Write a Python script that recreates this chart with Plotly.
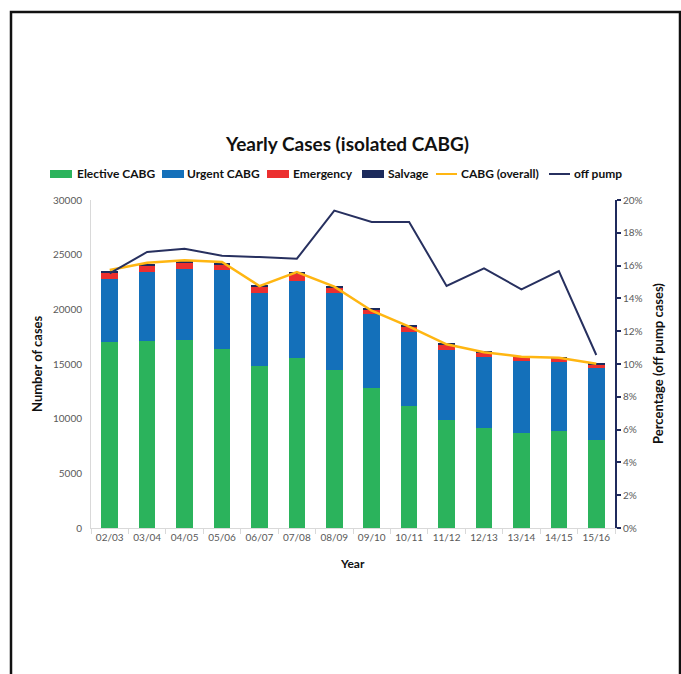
import plotly.graph_objects as go

years = ["02/03", "03/04", "04/05", "05/06", "06/07", "07/08", "08/09",
         "09/10", "10/11", "11/12", "12/13", "13/14", "14/15", "15/16"]
elective = [17040, 17130, 17220, 16370, 14800, 15520, 14420,
            12780, 11140, 9880, 9120, 8710, 8835, 8050]
urgent = [5760, 6320, 6440, 7230, 6665, 7070, 7045,
          6820, 6810, 6430, 6550, 6560, 6320, 6610]
emergency = [490, 550, 640, 515, 600, 710, 545,
             430, 460, 460, 400, 370, 365, 275]
salvage = [210, 150, 120, 120, 160, 150, 150,
           120, 160, 150, 120, 90, 120, 185]
cabg_overall = [23590, 24270, 24480, 24330, 22130, 23410, 22070,
                19870, 18410, 16800, 16070, 15670, 15580, 15030]
off_pump = [0.1553, 0.1683, 0.1703, 0.1660, 0.1652, 0.1642, 0.1935,
            0.1866, 0.1866, 0.1476, 0.1583, 0.1455, 0.1567, 0.1055]

FONT = "Lato"
GRAY = "#595959"
NAVY = "#1f2a5c"

bar_specs = [("Elective CABG", elective, "#2bb35c"),
             ("Urgent CABG", urgent, "#1470ba"),
             ("Emergency", emergency, "#ec2f2f"),
             ("Salvage", salvage, "#1c2a5c")]
line_specs = [("CABG (overall)", cabg_overall, "#ffb612", 2.5, "y"),
              ("off pump", off_pump, "#27305f", 2, "y2")]

fig = go.Figure()
for name, vals, col in bar_specs:
    fig.add_trace(go.Bar(x=years, y=vals, name=name, marker_color=col,
                         marker_line_width=0))
for name, vals, col, w, ax in line_specs:
    fig.add_trace(go.Scatter(x=years, y=vals, name=name, yaxis=ax,
                             mode="lines", line=dict(color=col, width=w)))

W, H = 681, 674
L, R, T, B = 91, 66, 200, 146
pw, ph = W - L - R, H - T - B


def px_x(p):
    return (p - L) / pw


def px_y(p):
    return (H - B - p) / ph


annotations = [
    dict(text="<b>Yearly Cases (isolated CABG)</b>", xref="paper", yref="paper",
         x=px_x(347), y=px_y(143), showarrow=False,
         font=dict(family=FONT, size=19, color="#111111"),
         xanchor="center", yanchor="middle"),
    dict(text="<b>Number of cases</b>", xref="paper", yref="paper",
         x=px_x(37), y=0.5, textangle=-90, showarrow=False,
         font=dict(family=FONT, size=13, color="#111111"),
         xanchor="center", yanchor="middle"),
    dict(text="<b>Percentage (off pump cases)</b>", xref="paper", yref="paper",
         x=px_x(658), y=0.5, textangle=-90, showarrow=False,
         font=dict(family=FONT, size=13, color="#111111"),
         xanchor="center", yanchor="middle"),
    dict(text="<b>Year</b>", xref="paper", yref="paper",
         x=px_x(352), y=px_y(563), showarrow=False,
         font=dict(family=FONT, size=12, color="#111111"),
         xanchor="center", yanchor="middle"),
]
shapes = [
    dict(type="rect", xref="paper", yref="paper",
         x0=px_x(11), x1=px_x(680), y0=px_y(690), y1=px_y(12),
         line=dict(color="#111111", width=2.5), fillcolor="rgba(0,0,0,0)",
         layer="above"),
]

# legend row (drawn as layout items so it fits on one line like the original)
LEG_Y = 174
sym_x = [50, 162, 267, 362, 436, 549]
txt_x = [75, 185, 291, 386, 459, 572]
entries = [(n, c, "bar") for n, _, c in bar_specs] + \
          [(n, c, "line") for n, _, c, _, _ in line_specs]
for (name, col, kind), sx, tx in zip(entries, sym_x, txt_x):
    if kind == "bar":
        shapes.append(dict(type="rect", xref="paper", yref="paper",
                           x0=px_x(sx), x1=px_x(sx + 22),
                           y0=px_y(LEG_Y + 4), y1=px_y(LEG_Y - 4),
                           line=dict(width=0), fillcolor=col))
    else:
        shapes.append(dict(type="line", xref="paper", yref="paper",
                           x0=px_x(sx), x1=px_x(sx + 21),
                           y0=px_y(LEG_Y), y1=px_y(LEG_Y),
                           line=dict(color=col, width=2)))
    annotations.append(dict(text="<b>" + name + "</b>", xref="paper",
                            yref="paper", x=px_x(tx), y=px_y(LEG_Y),
                            xanchor="left", yanchor="middle", showarrow=False,
                            font=dict(family=FONT, size=12, color="#111111")))

fig.update_layout(
    width=W, height=H,
    margin=dict(l=L, r=R, t=T, b=B),
    paper_bgcolor="white", plot_bgcolor="white",
    barmode="stack", bargap=0.56,
    font=dict(family=FONT, color=GRAY, size=10),
    showlegend=False,
    xaxis=dict(showgrid=False, showline=True, linecolor="#d9d9d9", linewidth=1,
               ticks="outside", tickson="boundaries", ticklen=5,
               tickcolor="#d9d9d9", tickfont=dict(size=10, color=GRAY),
               zeroline=False),
    yaxis=dict(range=[0, 30000], dtick=5000, tickformat="d", showgrid=False,
               showline=True, linecolor="#d9d9d9", linewidth=1, ticks="",
               zeroline=False, tickfont=dict(size=10, color=GRAY),
               ticklabelstandoff=6),
    yaxis2=dict(range=[0, 0.2], dtick=0.02, tickformat=".0%", overlaying="y",
                side="right", showgrid=False, showline=True, linecolor=NAVY,
                linewidth=2, ticks="outside", ticklen=4, tickcolor=NAVY,
                tickwidth=2, zeroline=False, tickfont=dict(size=10, color=GRAY)),
    annotations=annotations,
    shapes=shapes,
)

fig.write_html("out.html")
